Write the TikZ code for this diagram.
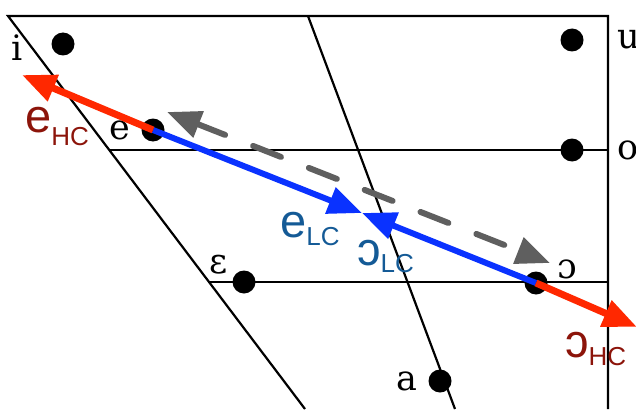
\documentclass[tikz,border=0pt]{standalone}
\usepackage{fontspec}
\setmainfont{DejaVu Serif}
\newfontfamily\lablfont{Liberation Sans}
\usetikzlibrary{arrows.meta, positioning}

\definecolor{hcred}{RGB}{255,40,0}
\definecolor{hctext}{RGB}{140,20,10}
\definecolor{lcblue}{RGB}{10,50,255}
\definecolor{lctext}{RGB}{20,90,150}
\definecolor{dashgray}{RGB}{95,95,95}

% vowel with lowered subscript
\newcommand{\vowsub}[3]{#1\raisebox{-#3pt}{\fontsize{26}{26}\selectfont #2}}

\begin{document}
\begin{tikzpicture}[x=1pt, y=-1pt, >={Triangle[length=34pt, width=27pt]},
    every node/.style={circle, fill, inner sep=0pt, minimum size=23pt},
    every label/.style={fill=none, minimum size=0pt, font=\fontsize{35}{35}\selectfont},
    grid/.style={line width=2.2pt},
    vowlab/.style={rectangle, fill=none, minimum size=0pt, anchor=base west, font=\lablfont\fontsize{47}{47}\selectfont}]
    \useasboundingbox (0,0) rectangle (636,409);

    % frame of the vowel space
    \coordinate (tl) at (8,16);
    \coordinate (tr) at (608,16);
    \coordinate (br) at (608,409);
    \coordinate (lb) at (305,409);
    \coordinate (mt) at (308,16);
    \coordinate (mb) at (455,409);
    \coordinate (ol) at (109,150);
    \coordinate (or) at (608,150);
    \coordinate (epl) at (209,282);
    \coordinate (epr) at (608,282);
    \draw[grid] (lb) -- (tl) -- (tr) -- (br);
    \draw[grid] (mt) -- (mb);
    \draw[grid] (ol) -- (or);
    \draw[grid] (epl) -- (epr);

    % vowels
    \node[label={[label distance=20pt, yshift=-4pt]left:i}] (i) at (63,44) {};
    \node[label={[label distance=30pt]right:u}] (u) at (572,40) {};
    \node[label={[label distance=30pt]right:o}] (o) at (572,150) {};
    \node[label={[label distance=7pt]left:e}] (e) at (153,130) {};
    \node[label={[label distance=0pt, xshift=-8pt]above left:ε}] (eps) at (244,282) {};
    \node[label={[label distance=0pt, xshift=13pt, yshift=-5pt]above right:ɔ}] (oo) at (536,283) {};
    \node[label={[label distance=7pt]left:a}] (a) at (440,381) {};

    \coordinate (lcmeet) at (362,213);
    \coordinate (hcfront) at (22,75);
    \coordinate (hcback) at (637,327);
    \coordinate (gfront) at (167,112);
    \coordinate (gback) at (550,263);

    \draw[->, line width=6pt, lcblue] (e.center) -- (lcmeet);
    \draw[->, line width=6pt, lcblue] (oo.center) -- (lcmeet);
    \draw[->, line width=7pt, hcred] (e.center) -- (hcfront);
    \draw[->, line width=7pt, hcred] (oo.center) -- (hcback);
    \draw[<->, line width=6pt, dashgray, dash pattern=on 30pt off 30pt, line cap=round] (gfront) -- (gback);

    \node[vowlab, text=hctext] (ehc) at (25,132) {\vowsub{e}{HC}{13}};
    \node[vowlab, text=lctext] (elc) at (280,237) {\vowsub{e}{LC}{8}};
    \node[vowlab, text=lctext] (olc) at (357,265) {\vowsub{ɔ}{LC}{7}};
    \node[vowlab, text=hctext] (ohc) at (565,357) {\vowsub{ɔ}{HC}{8}};
\end{tikzpicture}
\end{document}
